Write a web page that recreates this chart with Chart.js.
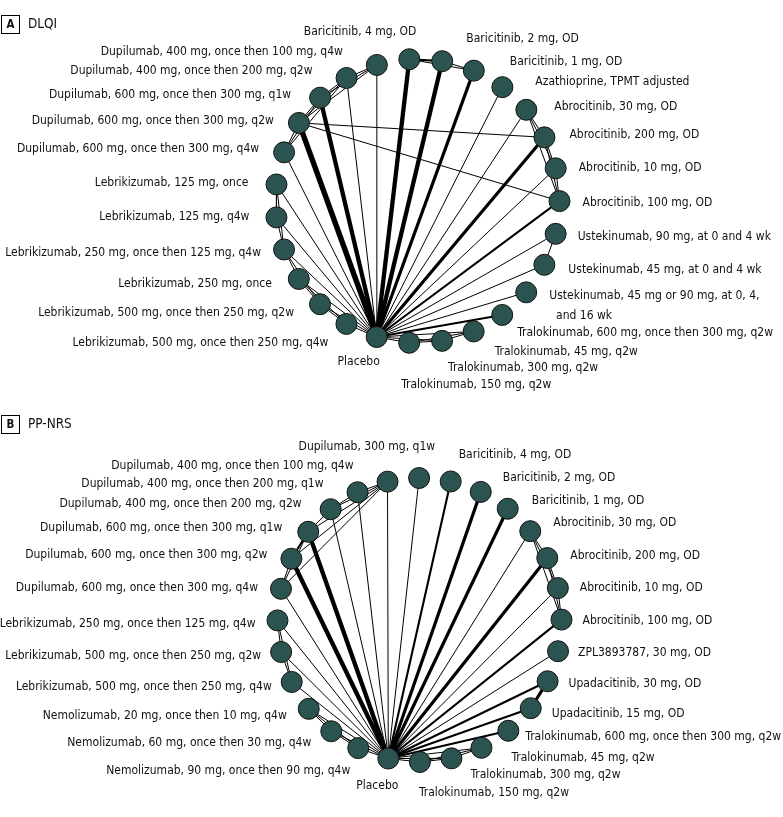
<!DOCTYPE html>
<html>
<head>
<meta charset="utf-8">
<script src="https://cdn.jsdelivr.net/npm/chart.js@4.4.0/dist/chart.umd.min.js"></script>
<style>
  html, body { margin: 0; padding: 0; background: #fff; }
  #wrap { position: relative; width: 783px; height: 817px; }
  .panel { position: absolute; left: 0; width: 783px; }
</style>
</head>
<body>
<div id="wrap">
  <div class="panel" style="top:0;height:400px"><canvas id="chartA"></canvas></div>
  <div class="panel" style="top:400px;height:417px"><canvas id="chartB"></canvas></div>
</div>
<script>
// treatment names
const treatLabels = {
  PBO: "Placebo",
  AZA: "Azathioprine, TPMT adjusted",
  ABR10: "Abrocitinib, 10 mg, OD",
  ABR30: "Abrocitinib, 30 mg, OD",
  ABR100: "Abrocitinib, 100 mg, OD",
  ABR200: "Abrocitinib, 200 mg, OD",
  BAR1: "Baricitinib, 1 mg, OD",
  BAR2: "Baricitinib, 2 mg, OD",
  BAR4: "Baricitinib, 4 mg, OD",
  DUP300q1: "Dupilumab, 300 mg, q1w",
  DUP400_100q4: "Dupilumab, 400 mg, once then 100 mg, q4w",
  DUP400_200q1: "Dupilumab, 400 mg, once then 200 mg, q1w",
  DUP400_200q2: "Dupilumab, 400 mg, once then 200 mg, q2w",
  DUP600q1: "Dupilumab, 600 mg, once then 300 mg, q1w",
  DUP600q2: "Dupilumab, 600 mg, once then 300 mg, q2w",
  DUP600q4: "Dupilumab, 600 mg, once then 300 mg, q4w",
  LEB125once: "Lebrikizumab, 125 mg, once",
  LEB125q4: "Lebrikizumab, 125 mg, q4w",
  LEB250_125q4: "Lebrikizumab, 250 mg, once then 125 mg, q4w",
  LEB250once: "Lebrikizumab, 250 mg, once",
  LEB500q2: "Lebrikizumab, 500 mg, once then 250 mg, q2w",
  LEB500q4: "Lebrikizumab, 500 mg, once then 250 mg, q4w",
  NEM20: "Nemolizumab, 20 mg, once then 10 mg, q4w",
  NEM60: "Nemolizumab, 60 mg, once then 30 mg, q4w",
  NEM90: "Nemolizumab, 90 mg, once then 90 mg, q4w",
  TRA45: "Tralokinumab, 45 mg, q2w",
  TRA150: "Tralokinumab, 150 mg, q2w",
  TRA300: "Tralokinumab, 300 mg, q2w",
  TRA600: "Tralokinumab, 600 mg, once then 300 mg, q2w",
  UST45: "Ustekinumab, 45 mg, at 0 and 4 wk",
  UST90: "Ustekinumab, 90 mg, at 0 and 4 wk",
  UST4590: "Ustekinumab, 45 mg or 90 mg, at 0, 4,\n  and 16 wk",
  UPA15: "Upadacitinib, 15 mg, OD",
  UPA30: "Upadacitinib, 30 mg, OD",
  ZPL: "ZPL3893787, 30 mg, OD"
};

// A: DLQI network, nodes in order around the circle starting at placebo
const nodesA = ["PBO", "LEB500q4", "LEB500q2", "LEB250once", "LEB250_125q4", "LEB125q4",
  "LEB125once", "DUP600q4", "DUP600q2", "DUP600q1", "DUP400_200q2", "DUP400_100q4",
  "BAR4", "BAR2", "BAR1", "AZA", "ABR30", "ABR200", "ABR10", "ABR100",
  "UST90", "UST45", "UST4590", "TRA600", "TRA45", "TRA300", "TRA150"];

// comparisons: [treatment, treatment, number of trials]
const edgesA = [
  ["PBO", "BAR4", 4], ["PBO", "BAR2", 4], ["PBO", "BAR1", 3], ["PBO", "AZA", 1],
  ["PBO", "ABR30", 1], ["PBO", "ABR200", 3], ["PBO", "ABR10", 1], ["PBO", "ABR100", 2],
  ["PBO", "UST90", 1], ["PBO", "UST45", 1], ["PBO", "UST4590", 1], ["PBO", "TRA600", 2],
  ["PBO", "TRA45", 1], ["PBO", "TRA300", 1], ["PBO", "TRA150", 1],
  ["PBO", "DUP400_100q4", 1], ["PBO", "DUP400_200q2", 1], ["PBO", "DUP600q1", 4],
  ["PBO", "DUP600q2", 5], ["PBO", "DUP600q4", 1],
  ["PBO", "LEB125once", 1], ["PBO", "LEB125q4", 1], ["PBO", "LEB250_125q4", 1],
  ["PBO", "LEB250once", 1], ["PBO", "LEB500q2", 1], ["PBO", "LEB500q4", 1],
  ["DUP600q2", "ABR200", 1], ["DUP600q2", "ABR100", 1],
  ["DUP400_100q4", "DUP400_200q2", 1], ["DUP400_100q4", "DUP600q1", 1], ["DUP400_100q4", "DUP600q2", 1],
  ["DUP400_200q2", "DUP600q1", 1], ["DUP400_200q2", "DUP600q2", 1], ["DUP400_200q2", "DUP600q4", 1],
  ["DUP600q1", "DUP600q2", 1], ["DUP600q1", "DUP600q4", 1], ["DUP600q2", "DUP600q4", 1],
  ["LEB125once", "LEB125q4", 1], ["LEB125once", "LEB250_125q4", 1], ["LEB125q4", "LEB250_125q4", 1],
  ["LEB250_125q4", "LEB250once", 1], ["LEB250_125q4", "LEB500q2", 1], ["LEB250once", "LEB500q2", 1],
  ["LEB250once", "LEB500q4", 1], ["LEB500q2", "LEB500q4", 1],
  ["ABR30", "ABR200", 1], ["ABR30", "ABR10", 1], ["ABR30", "ABR100", 1],
  ["ABR200", "ABR10", 1], ["ABR200", "ABR100", 1], ["ABR10", "ABR100", 1],
  ["BAR4", "BAR2", 2], ["BAR4", "BAR1", 1], ["BAR2", "BAR1", 1],
  ["UST90", "UST45", 1],
  ["TRA150", "TRA300", 1], ["TRA150", "TRA45", 1], ["TRA300", "TRA45", 1]
];

// B: PP-NRS network
const nodesB = ["PBO", "NEM90", "NEM60", "NEM20", "LEB500q4", "LEB500q2", "LEB250_125q4",
  "DUP600q4", "DUP600q2", "DUP600q1", "DUP400_200q2", "DUP400_200q1", "DUP400_100q4", "DUP300q1",
  "BAR4", "BAR2", "BAR1", "ABR30", "ABR200", "ABR10", "ABR100", "ZPL",
  "UPA30", "UPA15", "TRA600", "TRA45", "TRA300", "TRA150"];

const edgesB = [
  ["PBO", "DUP300q1", 1], ["PBO", "BAR4", 2], ["PBO", "BAR2", 3], ["PBO", "BAR1", 3],
  ["PBO", "ABR30", 1], ["PBO", "ABR200", 3], ["PBO", "ABR10", 1], ["PBO", "ABR100", 2],
  ["PBO", "ZPL", 1], ["PBO", "UPA30", 2], ["PBO", "UPA15", 2], ["PBO", "TRA600", 2],
  ["PBO", "TRA45", 1], ["PBO", "TRA300", 1], ["PBO", "TRA150", 1],
  ["PBO", "DUP400_100q4", 1], ["PBO", "DUP400_200q1", 1], ["PBO", "DUP400_200q2", 1],
  ["PBO", "DUP600q1", 4], ["PBO", "DUP600q2", 4], ["PBO", "DUP600q4", 1],
  ["PBO", "LEB250_125q4", 1], ["PBO", "LEB500q2", 1], ["PBO", "LEB500q4", 1],
  ["PBO", "NEM20", 1], ["PBO", "NEM60", 1], ["PBO", "NEM90", 1],
  ["DUP400_100q4", "DUP400_200q1", 1], ["DUP400_100q4", "DUP400_200q2", 1], ["DUP400_100q4", "DUP600q1", 1],
  ["DUP400_100q4", "DUP600q2", 1], ["DUP400_100q4", "DUP600q4", 1], ["DUP400_200q1", "DUP400_200q2", 1],
  ["DUP400_200q2", "DUP600q1", 1], ["DUP600q1", "DUP600q2", 2], ["DUP600q1", "DUP600q4", 1],
  ["DUP600q2", "DUP600q4", 1],
  ["LEB250_125q4", "LEB500q2", 1], ["LEB250_125q4", "LEB500q4", 1], ["LEB500q2", "LEB500q4", 1],
  ["NEM20", "NEM60", 1], ["NEM60", "NEM90", 1], ["NEM20", "NEM90", 1],
  ["ABR30", "ABR200", 1], ["ABR30", "ABR10", 1], ["ABR30", "ABR100", 1],
  ["ABR200", "ABR10", 1], ["ABR200", "ABR100", 1], ["ABR10", "ABR100", 1],
  ["UPA30", "UPA15", 3],
  ["TRA150", "TRA300", 1], ["TRA150", "TRA45", 1], ["TRA300", "TRA45", 1]
];

// layout: circle per panel and label offsets [dx, dy, align]
const layoutA = { cx: 417.5, cy: 201, r: 142, start: 106.7, h: 400, tag: "A", title: "DLQI" };
const layoutB = { cx: 419.5, cy: 220, r: 142, start: 102.7, h: 417, tag: "B", title: "PP-NRS" };

const labelPosA = {
  PBO: [-18, 25, "c"], LEB500q4: [-18, 19, "r"], LEB500q2: [-26, 9, "r"], LEB250once: [-27, 5, "r"],
  LEB250_125q4: [-23, 3, "r"], LEB125q4: [-27, -1, "r"], LEB125once: [-28, -2, "r"],
  DUP600q4: [-25, -3, "r"], DUP600q2: [-25, -2, "r"], DUP600q1: [-29, -3, "r"],
  DUP400_200q2: [-34, -7, "r"], DUP400_100q4: [-34, -13, "r"],
  BAR4: [7, -27, "r"], BAR2: [24, -22, "l"], BAR1: [36, -9, "l"], AZA: [33, -5, "l"],
  ABR30: [28, -3, "l"], ABR200: [25, -2, "l"], ABR10: [23, 0, "l"], ABR100: [23, 2, "l"],
  UST90: [22, 3, "l"], UST45: [24, 5, "l"], UST4590: [23, 4, "l"],
  TRA600: [15, 18, "l"], TRA45: [21, 20, "l"], TRA300: [6, 27, "l"], TRA150: [-8, 42, "l"]
};
const labelPosB = {
  PBO: [-11, 27, "c"], NEM90: [-8, 23, "r"], NEM60: [-20, 12, "r"], NEM20: [-22, 7, "r"],
  LEB500q4: [-20, 5, "r"], LEB500q2: [-20, 4, "r"], LEB250_125q4: [-22, 3, "r"],
  DUP600q4: [-23, -1, "r"], DUP600q2: [-24, -4, "r"], DUP600q1: [-26, -4, "r"],
  DUP400_200q2: [-29, -5, "r"], DUP400_200q1: [-34, -8, "r"], DUP400_100q4: [-34, -16, "r"],
  DUP300q1: [16, -31, "r"], BAR4: [8, -27, "l"], BAR2: [22, -14, "l"], BAR1: [24, -8, "l"],
  ABR30: [23, -8, "l"], ABR200: [23, -2, "l"], ABR10: [22, 0, "l"], ABR100: [21, 1, "l"],
  ZPL: [20, 2, "l"], UPA30: [21, 3, "l"], UPA15: [21, 6, "l"], TRA600: [17, 6, "l"],
  TRA45: [30, 10, "l"], TRA300: [19, 17, "l"], TRA150: [-1, 31, "l"]
};

const NODE_FILL = "#2b5451";
const FAMILY = "'DejaVu Sans Condensed', 'Liberation Sans', Arial, sans-serif";

// pick a font size so the long labels come out about as wide as in the figure
const measure = document.createElement("canvas").getContext("2d");
measure.font = "14px " + FAMILY;
const mw = measure.measureText("Lebrikizumab, 500 mg, once then 250 mg, q4w").width;
const FS = Math.max(11, Math.min(16, 14 * 256 / mw));

function widthFor(n) { return 1.1 * n - 0.1; }

function makeNetwork(canvasId, nodes, edges, layout, labelPos) {
  const pts = nodes.map((id, i) => {
    const a = (layout.start + i * 360 / nodes.length) * Math.PI / 180;
    return { x: layout.cx + layout.r * Math.cos(a), y: layout.cy + layout.r * Math.sin(a) };
  });
  const idx = {};
  nodes.forEach((id, i) => idx[id] = i);

  const datasets = [{
    label: "nodes",
    data: pts,
    pointRadius: 10.5,
    pointHoverRadius: 10.5,
    pointBackgroundColor: NODE_FILL,
    pointBorderColor: "#111",
    pointBorderWidth: 1,
    showLine: false,
    order: 0
  }];
  edges.forEach(e => {
    datasets.push({
      data: [pts[idx[e[0]]], pts[idx[e[1]]]],
      showLine: true,
      borderColor: "#000",
      borderWidth: widthFor(e[2]),
      pointRadius: 0,
      order: 1
    });
  });

  const labelPlugin = {
    id: "netLabels",
    afterDatasetsDraw(chart) {
      const ctx = chart.ctx, sx = chart.scales.x, sy = chart.scales.y;
      ctx.save();
      ctx.fillStyle = "#111";
      ctx.font = FS.toFixed(2) + "px " + FAMILY;
      ctx.textBaseline = "middle";
      nodes.forEach((id, i) => {
        const lp = labelPos[id];
        const x = sx.getPixelForValue(pts[i].x) + lp[0];
        const y = sy.getPixelForValue(pts[i].y) + lp[1];
        ctx.textAlign = lp[2] === "l" ? "left" : lp[2] === "r" ? "right" : "center";
        treatLabels[id].split("\n").forEach((t, k) => ctx.fillText(t, x, y + k * 20));
      });
      // panel tag and title
      ctx.strokeStyle = "#000";
      ctx.lineWidth = 1;
      ctx.strokeRect(1.5, 15.5, 18, 18);
      ctx.textAlign = "center";
      ctx.font = "bold " + (FS * 0.95).toFixed(2) + "px " + FAMILY;
      ctx.fillText(layout.tag, 10.5, 25);
      ctx.textAlign = "left";
      ctx.font = (FS * 1.12).toFixed(2) + "px " + FAMILY;
      ctx.fillText(layout.title, 28, 24.5);
      ctx.restore();
    }
  };

  return new Chart(document.getElementById(canvasId), {
    type: "scatter",
    data: { datasets },
    options: {
      responsive: true,
      maintainAspectRatio: false,
      animation: false,
      layout: { padding: 0, autoPadding: false },
      plugins: { legend: { display: false }, tooltip: { enabled: false } },
      events: [],
      scales: {
        x: { type: "linear", min: 0, max: 783, display: false },
        y: { type: "linear", min: 0, max: layout.h, reverse: true, display: false }
      }
    },
    plugins: [labelPlugin]
  });
}

makeNetwork("chartA", nodesA, edgesA, layoutA, labelPosA);
makeNetwork("chartB", nodesB, edgesB, layoutB, labelPosB);
</script>
</body>
</html>
